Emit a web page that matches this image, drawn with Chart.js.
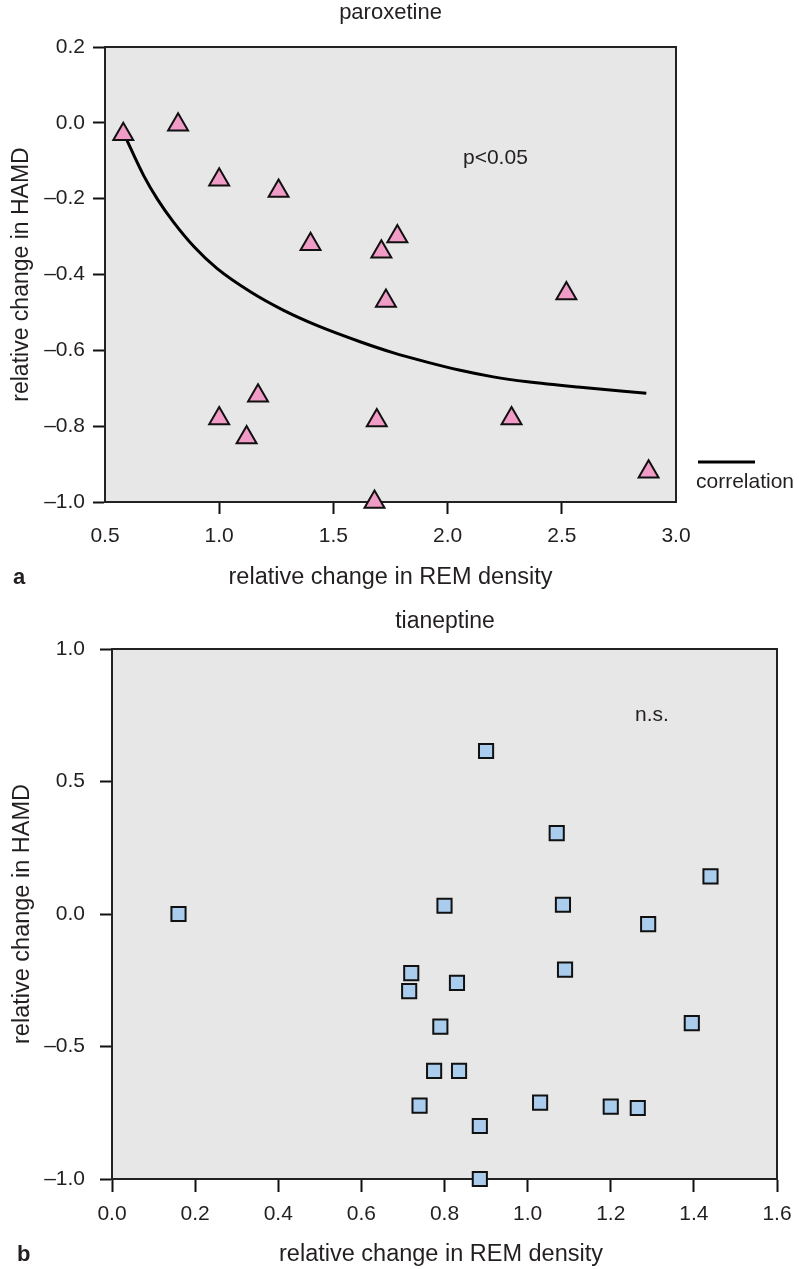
<!DOCTYPE html>
<html>
<head>
<meta charset="utf-8">
<script src="https://cdn.jsdelivr.net/npm/chart.js@4.4.0/dist/chart.umd.min.js"></script>
<style>
body { margin: 0; background: #fff; }
canvas { display: block; }
</style>
</head>
<body>
<canvas id="chartA" width="799" height="600"></canvas>
<canvas id="chartB" width="799" height="669"></canvas>
<script>
// panel a - paroxetine
const paroxX = [0.58, 0.82, 1.00, 1.26, 1.40, 1.71, 1.78, 1.73, 2.52, 1.17, 1.00, 1.12, 1.69, 1.68, 2.28, 2.88];
const paroxY = [-0.03, -0.005, -0.15, -0.18, -0.32, -0.34, -0.30, -0.47, -0.45, -0.72, -0.78, -0.83, -0.785, -1.0, -0.78, -0.92];
// correlation curve
const corrX = [0.58, 0.67, 0.73, 0.80, 0.89, 0.99, 1.14, 1.28, 1.43, 1.62, 1.76, 1.91, 2.05, 2.20, 2.35, 2.57, 2.87];
const corrY = [-0.025, -0.140, -0.202, -0.262, -0.327, -0.384, -0.447, -0.494, -0.535, -0.578, -0.606, -0.631, -0.652, -0.670, -0.683, -0.697, -0.713];
const xTicksA = [0.5, 1.0, 1.5, 2.0, 2.5, 3.0];
const yTicksA = [-1.0, -0.8, -0.6, -0.4, -0.2, 0.0, 0.2];

// panel b - tianeptine
const tianX = [0.16, 0.90, 1.07, 1.44, 0.80, 1.085, 1.29, 0.72, 0.715, 0.83, 1.09, 0.79, 1.395, 0.775, 0.835, 0.74, 1.03, 1.20, 1.265, 0.885, 0.885];
const tianY = [0.0, 0.615, 0.305, 0.142, 0.031, 0.035, -0.038, -0.223, -0.291, -0.26, -0.21, -0.425, -0.412, -0.592, -0.592, -0.723, -0.712, -0.727, -0.732, -0.80, -1.0];
const xTicksB = [0.0, 0.2, 0.4, 0.6, 0.8, 1.0, 1.2, 1.4, 1.6];
const yTicksB = [-1.0, -0.5, 0.0, 0.5, 1.0];

const FONT = '"Liberation Sans", Arial, Helvetica, sans-serif';
const INK = '#231f20';

function fmt(v) {
  if (Math.abs(v) < 1e-9) v = 0;
  return v.toFixed(1).replace('-', '\u2013');
}

function toPoints(xs, ys) {
  return xs.map((x, i) => ({ x: x, y: ys[i] }));
}

// background, frame and the free texts
function decor(texts, extra) {
  return {
    id: 'decor',
    beforeDraw(chart) {
      const { ctx, chartArea: a } = chart;
      ctx.save();
      ctx.fillStyle = '#e7e7e7';
      ctx.fillRect(a.left, a.top, a.width, a.height);
      ctx.restore();
    },
    beforeDatasetsDraw(chart) {
      const { ctx, chartArea: a } = chart;
      ctx.save();
      ctx.strokeStyle = '#222';
      ctx.lineWidth = 2;
      ctx.strokeRect(a.left, a.top, a.width, a.height);
      ctx.restore();
    },
    afterDraw(chart) {
      const { ctx, chartArea: a } = chart;
      ctx.save();
      ctx.fillStyle = INK;
      ctx.textBaseline = 'middle';
      texts(a).forEach(t => {
        ctx.font = (t.bold ? 'bold ' : '') + t.size + 'px ' + FONT;
        ctx.textAlign = t.align || 'center';
        if (t.rotate) {
          ctx.save();
          ctx.translate(t.x, t.y);
          ctx.rotate(-Math.PI / 2);
          ctx.fillText(t.text, 0, 0);
          ctx.restore();
        } else {
          ctx.fillText(t.text, t.x, t.y);
        }
      });
      if (extra) extra(ctx, a);
      ctx.restore();
    }
  };
}

function axes(o) {
  return {
    x: {
      type: 'linear', min: o.xMin, max: o.xMax,
      afterBuildTicks: s => { s.ticks = o.xTicks.map(v => ({ value: v })); },
      afterFit: s => { s.height = o.xHeight; s.paddingLeft = 0; s.paddingRight = 0; },
      ticks: { font: { size: 21, family: FONT }, color: INK, padding: o.xPad, callback: fmt, maxRotation: 0, autoSkip: false },
      grid: { drawOnChartArea: false, tickLength: o.xTickLen, tickWidth: 2, tickColor: o.xTickColor || '#111' },
      border: { display: true, color: '#111', width: 2 }
    },
    y: {
      type: 'linear', min: o.yMin, max: o.yMax,
      afterBuildTicks: s => { s.ticks = o.yTicks.map(v => ({ value: v })); },
      afterFit: s => { s.width = o.yWidth; s.paddingTop = 0; s.paddingBottom = 0; },
      ticks: { font: { size: 21, family: FONT }, color: INK, padding: o.yPad, callback: fmt, autoSkip: false },
      grid: { drawOnChartArea: false, tickLength: 12, tickWidth: 2, tickColor: '#111' },
      border: { display: true, color: '#111', width: 2 }
    }
  };
}

new Chart(document.getElementById('chartA'), {
  type: 'scatter',
  data: {
    datasets: [{
      data: toPoints(paroxX, paroxY),
      pointStyle: 'triangle',
      pointRadius: 11.5,
      pointBorderWidth: 2,
      pointBackgroundColor: '#f19cc6',
      pointBorderColor: '#111',
      clip: false
    }, {
      data: toPoints(corrX, corrY),
      showLine: true,
      pointRadius: 0,
      borderColor: '#000',
      borderWidth: 3,
      cubicInterpolationMode: 'monotone',
      clip: false
    }]
  },
  options: {
    responsive: false,
    animation: false,
    layout: { padding: { top: 47, right: 123, left: 0, bottom: 0 } },
    plugins: { legend: { display: false }, tooltip: { enabled: false } },
    scales: axes({
      xMin: 0.5, xMax: 3.0, yMin: -1.0, yMax: 0.2,
      xTicks: xTicksA, yTicks: yTicksA,
      xHeight: 98, yWidth: 105, xPad: 10, yPad: 8, xTickLen: 12,
      xTickColor: c => (c.index === 0 || c.index === xTicksA.length - 1) ? 'rgba(0,0,0,0)' : '#111'
    })
  },
  plugins: [decor(a => [
    { text: 'paroxetine', x: (a.left + a.right) / 2, y: 13, size: 22 },
    { text: 'relative change in HAMD', x: 22, y: (a.top + a.bottom) / 2, size: 23, rotate: true },
    { text: 'relative change in REM density', x: (a.left + a.right) / 2, y: 578, size: 23.5 },
    { text: 'a', x: 13, y: 578, size: 22, bold: true, align: 'left' },
    { text: 'p<0.05', x: 463, y: 158, size: 21, align: 'left' },
    { text: 'correlation', x: 696, y: 482, size: 21, align: 'left' }
  ], (ctx) => {
    ctx.strokeStyle = '#000';
    ctx.lineWidth = 3;
    ctx.beginPath();
    ctx.moveTo(698, 462);
    ctx.lineTo(755, 462);
    ctx.stroke();
  })]
});

new Chart(document.getElementById('chartB'), {
  type: 'scatter',
  data: {
    datasets: [{
      data: toPoints(tianX, tianY),
      pointStyle: 'rect',
      pointRadius: 10,
      pointBorderWidth: 2,
      pointBackgroundColor: '#aacdee',
      pointBorderColor: '#111',
      clip: false
    }]
  },
  options: {
    responsive: false,
    animation: false,
    layout: { padding: { top: 49, right: 22, left: 0, bottom: 0 } },
    plugins: { legend: { display: false }, tooltip: { enabled: false } },
    scales: axes({
      xMin: 0.0, xMax: 1.6, yMin: -1.0, yMax: 1.0,
      xTicks: xTicksB, yTicks: yTicksB,
      xHeight: 90, yWidth: 112, xPad: 10, yPad: 15, xTickLen: 13
    })
  },
  plugins: [decor(a => [
    { text: 'tianeptine', x: 445, y: 22, size: 23 },
    { text: 'relative change in HAMD', x: 23, y: (a.top + a.bottom) / 2, size: 23.5, rotate: true },
    { text: 'relative change in REM density', x: 441, y: 655, size: 23.5 },
    { text: 'b', x: 17, y: 655, size: 22, bold: true, align: 'left' },
    { text: 'n.s.', x: 635, y: 115, size: 21, align: 'left' }
  ])]
});
</script>
</body>
</html>
